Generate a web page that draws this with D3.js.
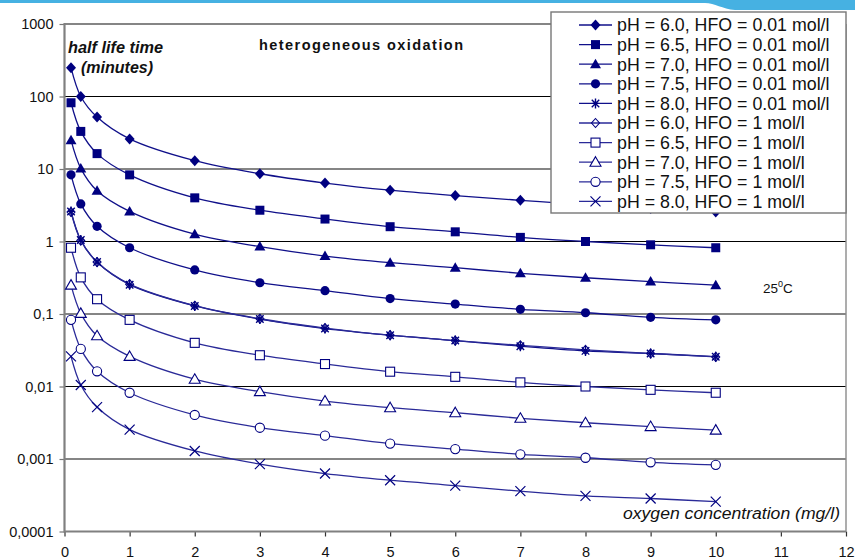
<!DOCTYPE html>
<html><head><meta charset="utf-8">
<script src="https://cdn.jsdelivr.net/npm/d3@7/dist/d3.min.js"></script>
<style>body{margin:0;background:#fff;}svg{display:block;font-family:"Liberation Sans",Arial,sans-serif;}</style>
</head><body><svg id="c" width="855" height="560"></svg>
<script>
const xValues = [0.1, 0.25, 0.5, 1, 2, 3, 4, 5, 6, 7, 8, 9, 10];
const seriesNames = [
  "pH = 6.0, HFO = 0.01 mol/l","pH = 6.5, HFO = 0.01 mol/l","pH = 7.0, HFO = 0.01 mol/l",
  "pH = 7.5, HFO = 0.01 mol/l","pH = 8.0, HFO = 0.01 mol/l","pH = 6.0, HFO = 1 mol/l",
  "pH = 6.5, HFO = 1 mol/l","pH = 7.0, HFO = 1 mol/l","pH = 7.5, HFO = 1 mol/l","pH = 8.0, HFO = 1 mol/l"];
const pH60_001 = [250, 100, 52, 26, 13, 8.6, 6.4, 5.1, 4.3, 3.7, 3.2, 2.85, 2.55];
const pH65_001 = [82, 33, 16.3, 8.3, 4.0, 2.7, 2.04, 1.6, 1.36, 1.14, 1.0, 0.9, 0.82];
const pH70_001 = [25, 10.2, 5.0, 2.6, 1.26, 0.85, 0.63, 0.51, 0.435, 0.364, 0.316, 0.28, 0.25];
const pH75_001 = [8.3, 3.3, 1.62, 0.82, 0.405, 0.27, 0.21, 0.163, 0.137, 0.116, 0.104, 0.09, 0.083];
const pH80_001 = [2.6, 1.05, 0.52, 0.254, 0.129, 0.085, 0.063, 0.051, 0.043, 0.036, 0.031, 0.0285, 0.0258];
const pH60_1 = [2.55, 1.03, 0.52, 0.258, 0.13, 0.086, 0.064, 0.051, 0.043, 0.037, 0.032, 0.0285, 0.0256];
const pH65_1 = [0.82, 0.32, 0.16, 0.083, 0.040, 0.027, 0.0204, 0.016, 0.0136, 0.0114, 0.010, 0.009, 0.0082];
const pH70_1 = [0.25, 0.102, 0.05, 0.026, 0.0126, 0.0085, 0.0063, 0.0051, 0.00435, 0.00364, 0.00316, 0.0028, 0.0025];
const pH75_1 = [0.083, 0.033, 0.0162, 0.0082, 0.00405, 0.0027, 0.0021, 0.00163, 0.00137, 0.00116, 0.00104, 0.0009, 0.00083];
const pH80_1 = [0.026, 0.0105, 0.0052, 0.00254, 0.00129, 0.00085, 0.00063, 0.00051, 0.00043, 0.00036, 0.00031, 0.000285, 0.000258];
const allSeries = [pH60_001, pH65_001, pH70_001, pH75_001, pH80_001, pH60_1, pH65_1, pH70_1, pH75_1, pH80_1];
const markerTypes = ["diamondF","squareF","triangleF","circleF","asterisk","diamondO","squareO","triangleO","circleO","cross"];
const yTickValues = [1000, 100, 10, 1, 0.1, 0.01, 0.001, 0.0001];
const yTickLabels = ["1000","100","10","1","0,1","0,01","0,001","0,0001"];
const xTickValues = [0,1,2,3,4,5,6,7,8,9,10,11,12];

const svg = d3.select("#c");
const W = 855, H = 560;
const L = 64.5, R = 846, T = 24, B = 531.5;
const x = d3.scaleLinear().domain([0, 12]).range([L, R]);
const y = d3.scaleLog().domain([0.0001, 1000]).range([B, T]);
const navy = "#000080";

// top banner
svg.append("path")
  .attr("d", `M0,0 L${W},0 L${W},10 L735,10 C722,9 715,3 705,3 L0,3 Z`)
  .attr("fill", "#46b1e2");

// gridlines
svg.append("g").selectAll("line").data(yTickValues.slice(0, -1)).join("line")
  .attr("x1", L).attr("x2", R)
  .attr("y1", d => y(d)).attr("y2", d => y(d))
  .attr("stroke", (d, i) => i % 2 === 0 ? "#858585" : "#000")
  .attr("stroke-width", (d, i) => i % 2 === 0 ? 1.8 : 1.1);

// axes
const yAxis = d3.axisLeft(y).tickValues(yTickValues).tickSize(5).tickPadding(6)
  .tickFormat((d, i) => yTickLabels[i]);
const gy = svg.append("g").attr("transform", `translate(${L},0)`).call(yAxis);
gy.select(".domain").remove();
gy.selectAll("line").attr("stroke", "#777").attr("stroke-width", 1.2);
gy.selectAll("text").attr("font-size", 14.5).attr("fill", "#111")
  .attr("font-family", "Liberation Sans, Arial, sans-serif");

const xAxis = d3.axisBottom(x).tickValues(xTickValues).tickSize(5).tickPadding(10).tickFormat(d3.format("d"));
const gx = svg.append("g").attr("transform", `translate(0,${B})`).call(xAxis);
gx.select(".domain").remove();
gx.selectAll("line").attr("stroke", "#333").attr("stroke-width", 1.2);
gx.selectAll("text").attr("font-size", 14.5).attr("fill", "#111")
  .attr("font-family", "Liberation Sans, Arial, sans-serif");

// plot frame
svg.append("line").attr("x1", L).attr("x2", L).attr("y1", T - 1).attr("y2", B + 1).attr("stroke", "#808080").attr("stroke-width", 2.2);
svg.append("line").attr("x1", L).attr("x2", R).attr("y1", B).attr("y2", B).attr("stroke", "#808080").attr("stroke-width", 2);
svg.append("line").attr("x1", R).attr("x2", R).attr("y1", T).attr("y2", B).attr("stroke", "#8a8a8a").attr("stroke-width", 1.4);

// lines
const lineGen = d3.line().x(d => x(d[0])).y(d => y(d[1])).curve(d3.curveCatmullRom.alpha(0.5));
const plot = svg.append("g");
allSeries.forEach((vals, si) => {
  const pts = xValues.map((xv, i) => [xv, vals[i]]);
  plot.append("path").datum(pts).attr("d", lineGen)
    .attr("fill", "none").attr("stroke", si < 5 ? "#10108a" : "#2a2a98").attr("stroke-width", 1.3);
});

function drawMarker(g, type, cx, cy) {
  const s = navy;
  switch (type) {
    case "diamondF": g.append("path").attr("d", `M${cx},${cy-5.5}L${cx+5},${cy}L${cx},${cy+5.5}L${cx-5},${cy}Z`).attr("fill", s); break;
    case "squareF": g.append("rect").attr("x", cx-4.5).attr("y", cy-4.5).attr("width", 9).attr("height", 9).attr("fill", s); break;
    case "triangleF": g.append("path").attr("d", `M${cx},${cy-5.5}L${cx+5.5},${cy+4}L${cx-5.5},${cy+4}Z`).attr("fill", s); break;
    case "circleF": g.append("circle").attr("cx", cx).attr("cy", cy).attr("r", 4.6).attr("fill", s); break;
    case "asterisk": {
      const r = 5;
      g.append("path").attr("d", `M${cx},${cy-r}V${cy+r}M${cx-r*0.75},${cy-r*0.75}L${cx+r*0.75},${cy+r*0.75}M${cx+r*0.75},${cy-r*0.75}L${cx-r*0.75},${cy+r*0.75}M${cx-r*0.6},${cy}H${cx+r*0.6}`)
        .attr("stroke", s).attr("stroke-width", 1.4).attr("fill", "none"); break; }
    case "diamondO": g.append("path").attr("d", `M${cx},${cy-4.5}L${cx+4},${cy}L${cx},${cy+4.5}L${cx-4},${cy}Z`).attr("fill", "none").attr("stroke", s).attr("stroke-width", 1.1); break;
    case "squareO": g.append("rect").attr("x", cx-4.5).attr("y", cy-4.5).attr("width", 9).attr("height", 9).attr("fill", "#fff").attr("stroke", s).attr("stroke-width", 1.1); break;
    case "triangleO": g.append("path").attr("d", `M${cx},${cy-5.5}L${cx+5.5},${cy+4}L${cx-5.5},${cy+4}Z`).attr("fill", "#fff").attr("stroke", s).attr("stroke-width", 1.1); break;
    case "circleO": g.append("circle").attr("cx", cx).attr("cy", cy).attr("r", 4.6).attr("fill", "#fff").attr("stroke", s).attr("stroke-width", 1.1); break;
    case "cross": g.append("path").attr("d", `M${cx-5},${cy-5}L${cx+5},${cy+5}M${cx+5},${cy-5}L${cx-5},${cy+5}`).attr("stroke", s).attr("stroke-width", 1.2); break;
  }
}
allSeries.forEach((vals, si) => {
  const g = plot.append("g");
  xValues.forEach((xv, i) => drawMarker(g, markerTypes[si], x(xv), y(vals[i])));
});

// annotations
svg.append("text").attr("x", 68).attr("y", 53).attr("font-size", 16).attr("font-weight", "bold").attr("font-style", "italic").attr("fill", "#111")
  .attr("textLength", 95).attr("lengthAdjust", "spacingAndGlyphs").text("half life time");
svg.append("text").attr("x", 81).attr("y", 73).attr("font-size", 16).attr("font-weight", "bold").attr("font-style", "italic").attr("fill", "#111")
  .attr("textLength", 72).attr("lengthAdjust", "spacingAndGlyphs").text("(minutes)");
svg.append("text").attr("x", 259).attr("y", 50).attr("font-size", 14.5).attr("font-weight", "bold").attr("fill", "#111")
  .attr("textLength", 204).attr("lengthAdjust", "spacing").text("heterogeneous oxidation");
const t25 = svg.append("text").attr("x", 763).attr("y", 293).attr("font-size", 13.5).attr("fill", "#111");
t25.append("tspan").text("25");
t25.append("tspan").attr("font-size", 9).attr("dy", -6).text("0");
t25.append("tspan").attr("dy", 6).text("C");
svg.append("text").attr("x", 623).attr("y", 519).attr("font-size", 16).attr("font-style", "italic").attr("fill", "#111")
  .attr("textLength", 217).attr("lengthAdjust", "spacingAndGlyphs").text("oxygen concentration (mg/l)");

// legend
const lg = svg.append("g");
lg.append("rect").attr("x", 551).attr("y", 12).attr("width", 295).attr("height", 201)
  .attr("fill", "#fff").attr("stroke", "#777").attr("stroke-width", 1.4);
seriesNames.forEach((name, i) => {
  const cy = 25 + i * 19.6;
  lg.append("line").attr("x1", 579).attr("x2", 612).attr("y1", cy).attr("y2", cy)
    .attr("stroke", i < 5 ? "#10108a" : "#2a2a98").attr("stroke-width", 1.3);
  drawMarker(lg, markerTypes[i], 595.5, cy);
  lg.append("text").attr("x", 617).attr("y", cy + 6.3).attr("font-size", 17.8).attr("fill", "#111").text(name);
});
</script></body></html>
